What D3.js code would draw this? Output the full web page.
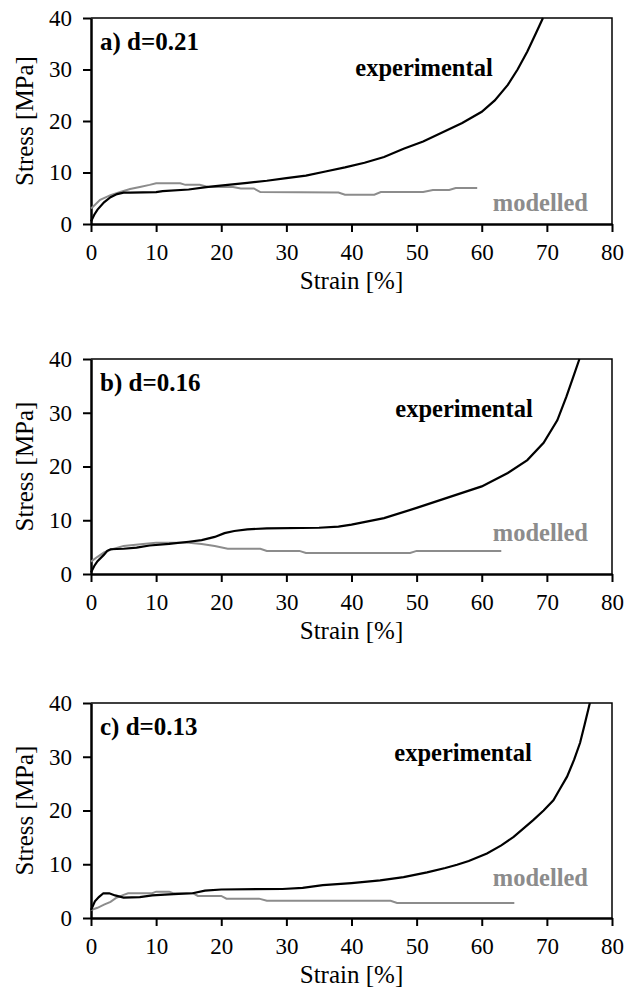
<!DOCTYPE html>
<html>
<head>
<meta charset="utf-8">
<script src="https://cdn.jsdelivr.net/npm/d3@7"></script>
<style>
  body { margin: 0; background: #fff; }
  svg { display: block; }
  text { font-family: "Liberation Serif", "Times New Roman", serif; }
</style>
</head>
<body>
<script>
// tick values
const xTicks = [0, 10, 20, 30, 40, 50, 60, 70, 80];
const yTicks = [0, 10, 20, 30, 40];
const panelLabels = ["a) d=0.21", "b) d=0.16", "c) d=0.13"];

// experimental curves [strain %, stress MPa]
const expA = [[0,0.5],[0.5,1.8],[1,2.8],[2,4.2],[3,5.2],[4,5.8],[5,6.1],[6,6.1],[10,6.2],[11,6.4],[15,6.7],[18,7.2],[21,7.6],[24,8],[27,8.4],[30,8.9],[33,9.4],[36,10.2],[39,11],[42,11.9],[45,13],[48,14.6],[51,16],[54,17.8],[57,19.6],[60,21.8],[62,24],[64,27],[65.5,30],[67,33.5],[68.3,37],[69.4,40]];
const expB = [[0,0.3],[0.5,1.5],[1,2.4],[2,3.6],[2.5,4.3],[3,4.6],[5,4.7],[7,4.9],[9,5.3],[12,5.6],[15,6],[17,6.3],[19,6.9],[20.5,7.6],[22,8],[24,8.3],[27,8.5],[35,8.6],[38,8.8],[40,9.2],[45,10.4],[50,12.3],[55,14.3],[60,16.3],[64,18.8],[67,21.2],[69.5,24.4],[71.6,28.6],[73,33],[74,36.5],[75,40]];
const expC = [[0,1.5],[0.6,3.1],[1.2,3.9],[1.9,4.6],[2.8,4.6],[3.7,4.2],[5,3.8],[7.5,3.9],[9.4,4.2],[12,4.4],[15.6,4.6],[17.5,5.1],[20,5.3],[29.4,5.4],[32.5,5.6],[35.6,6.1],[40,6.5],[44.4,7],[48,7.6],[51.6,8.5],[54.4,9.3],[56.2,9.9],[58,10.6],[60.8,12],[63,13.5],[64.9,15.1],[67.9,18.2],[69.5,20],[71,21.9],[72,24],[73.1,26.3],[74.2,29.5],[75.1,32.6],[75.8,36],[76.6,40]];

// modelled curves
const modA = [[0,3],[0.5,3.6],[1.4,4.7],[3,5.6],[4.5,6.2],[6,6.8],[7.5,7.2],[9,7.6],[10,7.9],[13.7,7.9],[14.5,7.6],[16.7,7.6],[18,7.2],[21.8,7.2],[23,6.9],[25,6.9],[26,6.2],[38,6.1],[39,5.7],[43.5,5.7],[44.5,6.2],[51,6.2],[52.5,6.6],[55,6.6],[56,7],[59.3,7]];
const modB = [[0,2.3],[1,3.2],[2,4],[3,4.5],[5,5.2],[8,5.6],[10,5.8],[15,5.8],[17,5.6],[19,5.2],[21,4.7],[26,4.7],[27,4.3],[32,4.3],[33,3.9],[49,3.9],[50,4.3],[63,4.3]];
const modC = [[0,1.5],[1,1.9],[2,2.5],[3,3],[3.8,3.7],[5,4.3],[5.7,4.6],[9.4,4.6],[10,4.9],[12,4.9],[12.6,4.6],[15.7,4.6],[16.4,4.1],[20,4.1],[20.8,3.6],[25.8,3.6],[27,3.2],[46,3.2],[47,2.8],[65,2.8]];

const expSeries = [expA, expB, expC];
const modSeries = [modA, modB, modC];

let w = 637, h = 997;
let left = 91, right = 612;
let tops = [18, 359, 703];
let bottoms = [224, 574, 918];
let expLabelX = [424, 464, 463];
let modLabelY = [211, 541, 886];

let svg = d3.select("body").append("svg")
  .attr("width", w).attr("height", h);

let xScale = d3.scaleLinear().domain([0, 80]).range([left, right]);

for (let i = 0; i < 3; i++) {
  let top = tops[i], bot = bottoms[i];
  let yScale = d3.scaleLinear().domain([0, 40]).range([bot, top]);
  let g = svg.append("g");

  // frame top/right
  g.append("path")
    .attr("d", "M" + left + "," + top + "H" + right + "V" + bot)
    .attr("fill", "none").attr("stroke", "#000").attr("stroke-width", 1.5);

  let xAxis = d3.axisBottom(xScale).tickValues(xTicks).tickSize(8).tickSizeOuter(0).tickPadding(12);
  let yAxis = d3.axisLeft(yScale).tickValues(yTicks).tickSize(8).tickSizeOuter(0).tickPadding(11);

  let gx = g.append("g").attr("transform", "translate(0," + bot + ")").call(xAxis);
  let gy = g.append("g").attr("transform", "translate(" + left + ",0)").call(yAxis);
  [gx, gy].forEach(a => {
    a.select(".domain").attr("stroke-width", 2.5);
    a.selectAll(".tick line").attr("stroke-width", 2);
    a.selectAll(".tick text").attr("font-size", 23).attr("font-family", "Liberation Serif").attr("fill", "#000");
  });

  let line = d3.line().x(d => xScale(d[0])).y(d => yScale(d[1]));

  g.append("path").datum(modSeries[i]).attr("d", line)
    .attr("fill", "none").attr("stroke", "#8c8c8c").attr("stroke-width", 2);
  g.append("path").datum(expSeries[i]).attr("d", line)
    .attr("fill", "none").attr("stroke", "#000").attr("stroke-width", 2.2);

  // texts
  g.append("text").text(panelLabels[i])
    .attr("x", left + 9).attr("y", top + 32)
    .attr("font-size", 25).attr("font-weight", "bold");
  g.append("text").text("experimental")
    .attr("x", expLabelX[i]).attr("y", top + 58)
    .attr("text-anchor", "middle").attr("font-size", 24.5).attr("font-weight", "bold");
  g.append("text").text("modelled")
    .attr("x", 588).attr("y", modLabelY[i])
    .attr("text-anchor", "end").attr("font-size", 24.5).attr("font-weight", "bold").attr("fill", "#8c8c8c");

  g.append("text").text("Stress [MPa]")
    .attr("transform", "translate(33," + ((top + bot) / 2) + ") rotate(-90)")
    .attr("text-anchor", "middle").attr("font-size", 25);
  g.append("text").text("Strain [%]")
    .attr("x", (left + right) / 2).attr("y", bot + 65)
    .attr("text-anchor", "middle").attr("font-size", 25);
}
</script>
</body>
</html>
